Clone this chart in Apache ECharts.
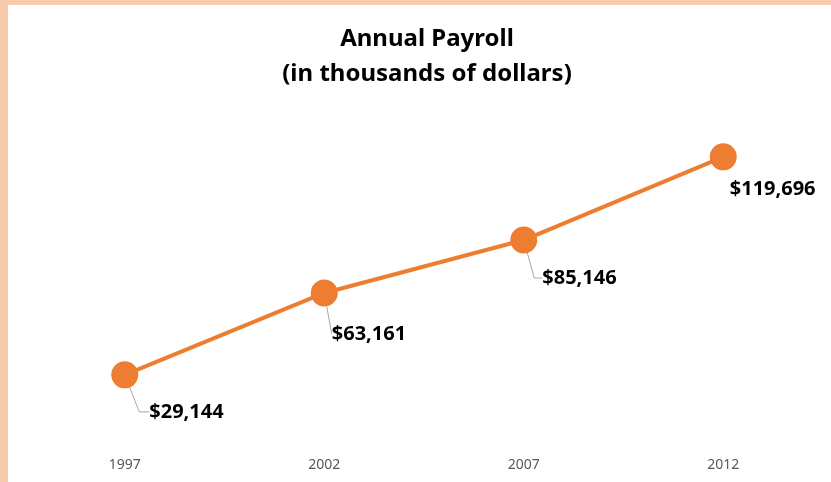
<!DOCTYPE html>
<html>
<head>
<meta charset="utf-8">
<script src="https://cdn.jsdelivr.net/npm/echarts@6/dist/echarts.min.js"></script>
<style>
  html, body { margin: 0; padding: 0; background: #F8CBAD; }
  #chart { position: absolute; left: 8px; top: 5px; width: 823px; height: 477px; background: #fff; }
</style>
</head>
<body>
<div id="chart"></div>
<script>
// 年份和工资总额（千美元）
const years = ['1997', '2002', '2007', '2012'];
const payroll = [29144, 63161, 85146, 119696];
// 标签相对默认位置的偏移，以及引导线的水平段长度
const labelShift = [[11, 37], [-6, 41], [5, 38], [-7, 32]];
const leaderTail = [10, 0, 8, -1];

const chart = echarts.init(document.getElementById('chart'));
chart.setOption({
    animation: false,
    title: {
        text: 'Annual Payroll\n(in thousands of dollars)',
        left: 414,
        top: 12,
        textAlign: 'center',
        textStyle: {
            fontFamily: 'Noto Sans',
            fontSize: 24,
            fontWeight: 'bold',
            lineHeight: 35,
            color: '#000'
        }
    },
    grid: { left: 17, right: 8, top: 103, bottom: 37 },
    xAxis: {
        type: 'category',
        data: years,
        boundaryGap: true,
        axisLine: { show: false },
        axisTick: { show: false },
        axisLabel: { color: '#595959', fontSize: 14, margin: 13, fontFamily: 'Noto Sans' }
    },
    yAxis: {
        type: 'value',
        min: 0,
        max: 140000,
        show: false,
        splitLine: { show: false }
    },
    series: [{
        type: 'line',
        data: payroll.map((v, i) => ({
            value: v,
            labelLine: leaderTail[i] < 0 ? { show: false } : { show: true, length2: leaderTail[i] }
        })),
        symbol: 'circle',
        symbolSize: 27,
        lineStyle: { color: '#ED7D31', width: 4 },
        itemStyle: { color: '#ED7D31' },
        label: {
            show: true,
            position: 'right',
            distance: 0,
            formatter: p => '$' + p.value.toLocaleString('en-US'),
            fontFamily: 'Noto Sans',
            fontSize: 20,
            fontWeight: 'bold',
            color: '#000'
        },
        labelLine: { show: true, lineStyle: { color: '#A6A6A6', width: 1 } },
        labelLayout: function (params) {
            const s = labelShift[params.dataIndex];
            return { dx: s[0], dy: s[1] };
        }
    }]
});
</script>
</body>
</html>
